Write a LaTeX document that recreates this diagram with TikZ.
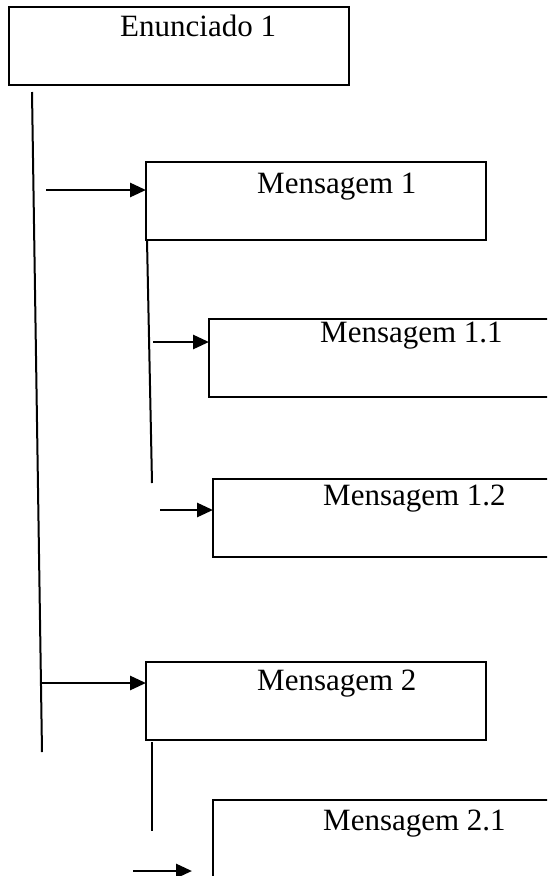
\documentclass[tikz,border=0pt]{standalone}
\usepackage{fontspec}
\setmainfont{Liberation Serif}
\usepackage{tikz}
\usetikzlibrary{calc}
\usetikzlibrary{arrows.meta}
\tikzstyle{arrow} = [line width=2.8pt, -{Triangle[length=16pt,width=14pt]}]

\begin{document}
\begin{tikzpicture}[x=1pt, y=-1pt,
				box/.style= {draw, rectangle, line width=2.8pt, anchor=north west, minimum width=340pt, minimum height=78pt, inner sep=0pt, outer sep=0pt},
				txt/.style= {anchor=base west, inner sep=0pt, font={\fontsize{31}{37}\selectfont}},
				ln/.style= {line width=2pt}
			]
			\clip (0,0) rectangle (547,876);
			\fill [white] (0,0) rectangle (547,876);
			
			% boxes
			\node (en) [box] at (9,7) {};
			\node (m1) [box] at (146,162) {};
			\node (m11) [box] at (209,319) {};
			\node (m12) [box] at (213,479) {};
			\node (m2) [box] at (146,662) {};
			\node (m21) [box] at (213,800) {};
			
			% texts
			\node (ten) [txt] at (120,36) {Enunciado 1};
			\node (tm1) [txt] at (257,193) {Mensagem 1};
			\node (tm11) [txt] at (320,342) {Mensagem 1.1};
			\node (tm12) [txt] at (323,505) {Mensagem 1.2};
			\node (tm2) [txt] at (257,690) {Mensagem 2};
			\node (tm21) [txt] at (323,830) {Mensagem 2.1};
			
			% vertical lines
			\coordinate (l0a) at (32,92);
			\coordinate (l0b) at (42,752);
			\coordinate (l1a) at (147,240);
			\coordinate (l1b) at (152,483);
			\coordinate (l2a) at (152,742);
			\coordinate (l2b) at (152,831);
			\draw [ln] (l0a) -- (l0b);
			\draw [ln] (l1a) -- (l1b);
			\draw [ln] (l2a) -- (l2b);
			
			% arrows
			\coordinate (a1) at (46,190);
			\coordinate (a11) at (153,342);
			\coordinate (a12) at (160,510);
			\coordinate (a2) at (42,683);
			\coordinate (a21) at (133,871);
			\draw [arrow] (a1) -- (a1 -| m1.west);
			\draw [arrow] (a11) -- (a11 -| m11.west);
			\draw [arrow] (a12) -- (a12 -| m12.west);
			\draw [arrow] (a2) -- (a2 -| m2.west);
			\draw [arrow, shorten >=21pt] (a21) -- (a21 -| m21.west);
		\end{tikzpicture}
\end{document}
